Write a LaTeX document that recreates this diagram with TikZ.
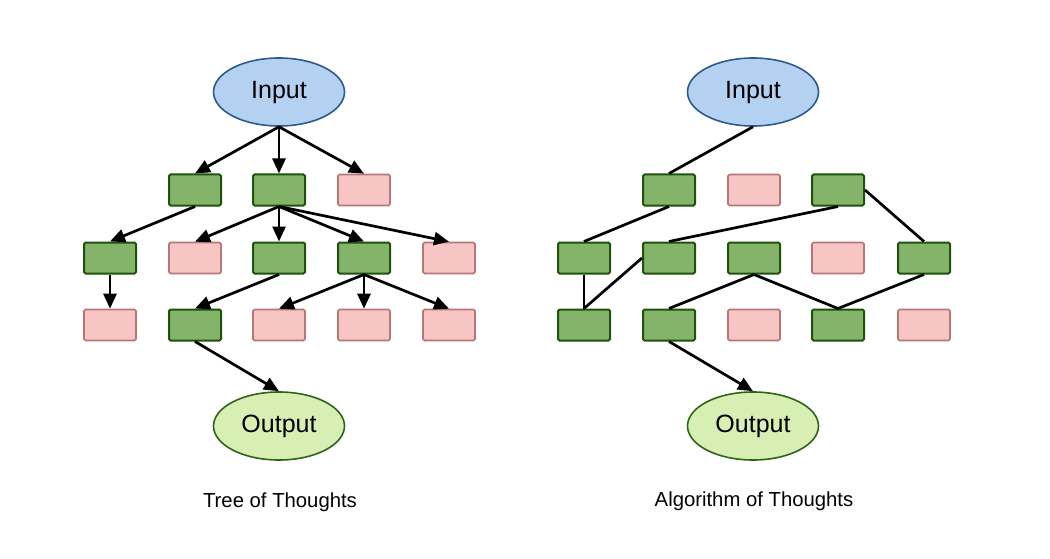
\documentclass[tikz,border=0pt]{standalone}
\usepackage{fontspec}
\setmainfont{Liberation Sans}
\usetikzlibrary{shapes.geometric,arrows.meta}
\definecolor{gfill}{HTML}{84B36A}
\definecolor{gdraw}{HTML}{1F520C}
\definecolor{pfill}{HTML}{F7C6C4}
\definecolor{pdraw}{HTML}{B87674}
\definecolor{infill}{HTML}{B5D1F2}
\definecolor{indraw}{HTML}{2C5A8C}
\definecolor{outfill}{HTML}{D7EFB2}
\definecolor{outdraw}{HTML}{2E6418}
\tikzset{
  gbox/.style={draw=gdraw,fill=gfill,line width=2pt,minimum width=52pt,minimum height=31pt,inner sep=0pt,rounded corners=1.5pt},
  pbox/.style={draw=pdraw,fill=pfill,line width=1.6pt,minimum width=52pt,minimum height=31pt,inner sep=0pt,rounded corners=1.5pt},
  inell/.style={ellipse,draw=indraw,fill=infill,line width=1.6pt,minimum width=131pt,minimum height=68pt,inner sep=0pt,font=\fontsize{25}{29}\selectfont},
  outell/.style={ellipse,draw=outdraw,fill=outfill,line width=1.6pt,minimum width=131pt,minimum height=68pt,inner sep=0pt,font=\fontsize{25}{29}\selectfont},
  arr/.style={line width=2.7pt,-{Triangle[length=15pt,width=13pt]}},
  lnk/.style={line width=2.7pt},
  ttl/.style={font=\fontsize{20.3}{24}\selectfont,inner sep=0pt}
}
\begin{document}
\begin{tikzpicture}[x=1pt,y=-1pt]
\useasboundingbox[fill=white] (0,0) rectangle (1050,559);
% ---------- Tree of Thoughts ----------
\node[inell] (LI) at (279,92) {Input};
\node[gbox] (La1) at (195,190) {};
\node[gbox] (La2) at (279,190) {};
\node[pbox] (La3) at (364,190) {};
\node[gbox] (Lb1) at (110,258) {};
\node[pbox] (Lb2) at (195,258) {};
\node[gbox] (Lb3) at (279,258) {};
\node[gbox] (Lb4) at (364,258) {};
\node[pbox] (Lb5) at (449,258) {};
\node[pbox] (Lc1) at (110,325) {};
\node[gbox] (Lc2) at (195,325) {};
\node[pbox] (Lc3) at (279,325) {};
\node[pbox] (Lc4) at (364,325) {};
\node[pbox] (Lc5) at (449,325) {};
\node[outell] (LO) at (279,426) {Output};
\node[ttl] (LT) at (280,502) {Tree of Thoughts};
\draw[arr] (LI.south) -- (La1.north);
\draw[arr] (LI.south) -- (La2.north);
\draw[arr] (LI.south) -- (La3.north);
\draw[arr] (La1.south) -- (Lb1.north);
\draw[arr] (La2.south) -- (Lb2.north);
\draw[arr] (La2.south) -- (Lb3.north);
\draw[arr] (La2.south) -- (Lb4.north);
\draw[arr] (La2.south) -- (Lb5.north);
\draw[arr] (Lb1.south) -- (Lc1.north);
\draw[arr] (Lb3.south) -- (Lc2.north);
\draw[arr] (Lb4.south) -- (Lc3.north);
\draw[arr] (Lb4.south) -- (Lc4.north);
\draw[arr] (Lb4.south) -- (Lc5.north);
\draw[arr] (Lc2.south) -- (LO.north);
% ---------- Algorithm of Thoughts ----------
\node[inell] (RI) at (753,92) {Input};
\node[gbox] (Ra1) at (669,190) {};
\node[pbox] (Ra2) at (754,190) {};
\node[gbox] (Ra3) at (838,190) {};
\node[gbox] (Rb1) at (584,258) {};
\node[gbox] (Rb2) at (669,258) {};
\node[gbox] (Rb3) at (754,258) {};
\node[pbox] (Rb4) at (838,258) {};
\node[gbox] (Rb5) at (924,258) {};
\node[gbox] (Rc1) at (584,325) {};
\node[gbox] (Rc2) at (669,325) {};
\node[pbox] (Rc3) at (754,325) {};
\node[gbox] (Rc4) at (838,325) {};
\node[pbox] (Rc5) at (924,325) {};
\node[outell] (RO) at (753,426) {Output};
\node[ttl] (RT) at (754,501) {Algorithm of Thoughts};
\draw[lnk] (RI.south) -- (Ra1.north);
\draw[lnk] (Ra1.south) -- (Rb1.north);
\draw[lnk] (Ra3.south) -- (Rb2.north);
\draw[lnk] (Ra3.east) -- (Rb5.north);
\draw[lnk] (Rb1.south) -- (Rc1.north);
\draw[lnk] (Rb2.west) -- (Rc1.north);
\draw[lnk] (Rb3.south) -- (Rc2.north);
\draw[lnk] (Rb3.south) -- (Rc4.north);
\draw[lnk] (Rb5.south) -- (Rc4.north);
\draw[arr] (Rc2.south) -- (RO.north);
\end{tikzpicture}
\end{document}
